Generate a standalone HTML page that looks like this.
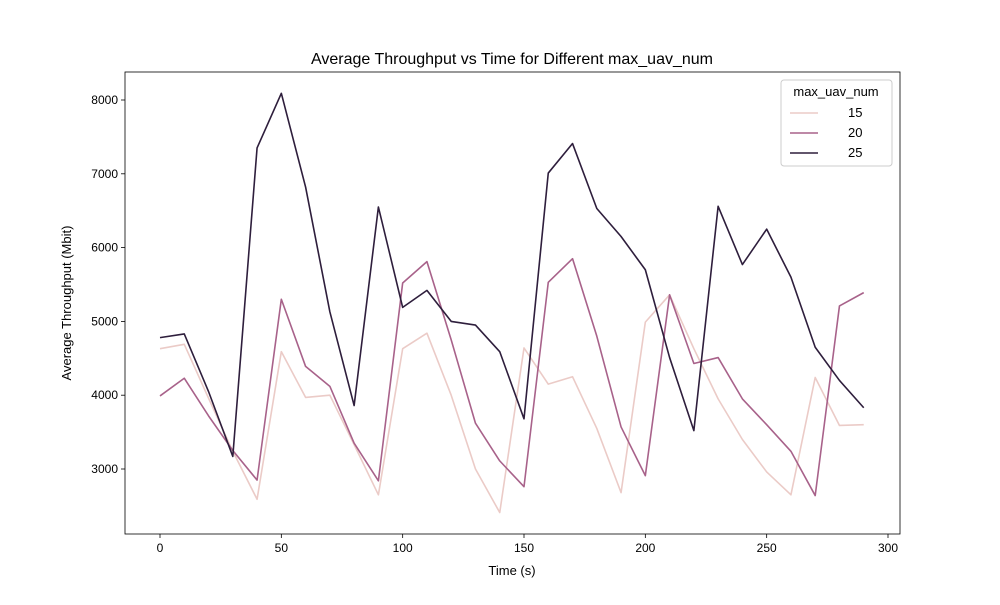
<!DOCTYPE html>
<html><head><meta charset="utf-8"><style>
body{margin:0;background:#fff;}
svg text{font-family:"Liberation Sans","DejaVu Sans",sans-serif;}
</style></head><body>
<svg id="chart" width="1000" height="600" xmlns="http://www.w3.org/2000/svg">
<rect width="1000" height="600" fill="#fff"/>
<text x="512" y="64" font-size="16" text-anchor="middle">Average Throughput vs Time for Different max_uav_num</text>
<g id="plot"></g>
<text x="512" y="575" font-size="13" text-anchor="middle">Time (s)</text>
<text transform="translate(71,303) rotate(-90)" font-size="13" text-anchor="middle">Average Throughput (Mbit)</text>
</svg>
<script>
const times=[0,10,20,30,40,50,60,70,80,90,100,110,120,130,140,150,160,170,180,190,200,210,220,230,240,250,260,270,280,290];
const s15=[4630,4690,3960,3240,2590,4590,3970,4000,3330,2650,4630,4840,4000,3000,2410,4640,4150,4250,3550,2680,4990,5360,4630,3950,3400,2960,2650,4240,3590,3600];
const s20=[3990,4230,3720,3250,2850,5300,4390,4120,3350,2840,5520,5810,4750,3620,3110,2760,5530,5850,4800,3570,2910,5360,4430,4510,3950,3600,3240,2640,5210,5390];
const s25=[4780,4830,4050,3170,7350,8090,6820,5130,3860,6550,5190,5420,5000,4950,4590,3680,7010,7410,6530,6150,5700,4510,3520,6560,5770,6250,5600,4650,4200,3830];
const xTicks=[0,50,100,150,200,250,300];
const yTicks=[3000,4000,5000,6000,7000,8000];
const seriesNames=["15","20","25"];
const colors=["#ebcbc7","#a8628a","#2e1e3c"];
const L=125,R=900,T=72,B=534;
const xs=v=>160+v*(888-160)/300;
const ys=v=>469-(v-3000)*(469-100)/5000;
const NS="http://www.w3.org/2000/svg";
const g=document.getElementById('plot');
function mk(t,a){const e=document.createElementNS(NS,t);for(const k in a)e.setAttribute(k,a[k]);g.appendChild(e);return e;}
const frame=mk('rect',{x:L,y:T,width:R-L,height:B-T,fill:'none',stroke:'#000','stroke-width':0.8});


xTicks.forEach(t=>{const x=xs(t);
 const l=mk('line',{x1:x,x2:x,y1:B,y2:B+4,stroke:'#000','stroke-width':0.8});
 
 
 const tx=mk('text',{x:x,y:B+18,'font-size':12,'text-anchor':'middle'});tx.textContent=t;
 
 });
yTicks.forEach(t=>{const y=ys(t);
 const l=mk('line',{x1:L-4,x2:L,y1:y,y2:y,stroke:'#000','stroke-width':0.8});
 
 
 const tx=mk('text',{x:L-7,y:y+4,'font-size':12,'text-anchor':'end'});tx.textContent=t;
 
 });
[s15,s20,s25].forEach((s,i)=>{
 const p=mk('polyline',{points:s.map((v,j)=>xs(times[j])+','+ys(v)).join(' '),fill:'none',stroke:colors[i],'stroke-width':1.6,'stroke-linejoin':'round'});
 
 
});
const lg=mk('rect',{x:781,y:80,width:111,height:86,fill:'#fff',stroke:'#ccc',rx:3,'fill-opacity':0.8});


const lt=mk('text',{x:836,y:96,'font-size':13,'text-anchor':'middle'});lt.textContent='max_uav_num';


seriesNames.forEach((n,i)=>{const y=113+i*20;
 const l=mk('line',{x1:790,x2:818,y1:y,y2:y,stroke:colors[i],'stroke-width':1.6});
 
 
 const t=mk('text',{x:848,y:y+4,'font-size':13});t.textContent=n;
 
 });
</script>
</body></html>
